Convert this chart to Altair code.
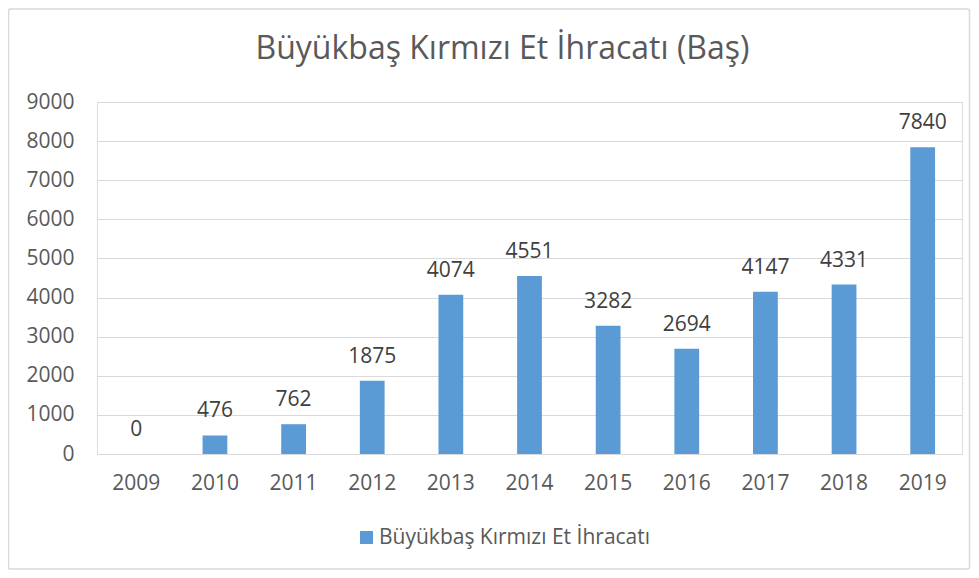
import altair as alt
import pandas as pd

years = ["2009", "2010", "2011", "2012", "2013", "2014", "2015", "2016", "2017", "2018", "2019"]
values = [0, 476, 762, 1875, 4074, 4551, 3282, 2694, 4147, 4331, 7840]
series_name = "Büyükbaş Kırmızı Et İhracatı"
title_text = "Büyükbaş Kırmızı Et İhracatı (Baş)"
y_ticks = [0, 1000, 2000, 3000, 4000, 5000, 6000, 7000, 8000, 9000]

df = pd.DataFrame({"year": years, "value": values, "series": [series_name] * len(years)})

FONT = "Open Sans"
BAR = "#5b9bd5"
GRID = "#d9d9d9"
TXT = "#595959"
FS = 21

x_enc = alt.X("year:N", sort=years,
              scale=alt.Scale(paddingInner=0.685, paddingOuter=0.3425),
              axis=alt.Axis(title=None, labelAngle=0, labelFontSize=FS, labelColor=TXT,
                            labelFont=FONT, labelPadding=18, labelBaseline="top",
                            ticks=False, domainColor=GRID, domainWidth=1, grid=False))
y_enc = alt.Y("value:Q",
              scale=alt.Scale(domain=[0, 9000], nice=False),
              axis=alt.Axis(title=None, values=y_ticks, format="d", labelOverlap=False,
                            labelFontSize=FS, labelColor=TXT,
                            labelFont=FONT, labelPadding=23, ticks=False, domain=False,
                            gridColor=GRID, gridWidth=1))

bars = alt.Chart(df).mark_bar(color=BAR).encode(
    x=x_enc,
    y=y_enc,
    color=alt.Color("series:N",
                    scale=alt.Scale(domain=[series_name], range=[BAR]),
                    legend=alt.Legend(title=None, orient="none", legendX=259, legendY=425,
                                      symbolType="square", symbolSize=170, symbolStrokeWidth=0,
                                      labelFontSize=FS, labelColor=TXT, labelFont=FONT,
                                      labelOffset=2, labelLimit=0)),
)

labels = alt.Chart(df).mark_text(baseline="alphabetic", dy=-18, fontSize=FS,
                                 font=FONT, color="#404040").encode(
    x=x_enc,
    y=y_enc,
    text="value:Q",
)

frame = alt.Chart(pd.DataFrame({"a": [0]})).mark_rect(
    fill=None, stroke=GRID, strokeWidth=1.5, cornerRadius=2
).encode(
    x=alt.value(-88.5), x2=alt.value(872.5),
    y=alt.value(-93), y2=alt.value(467),
)

title = alt.Chart(pd.DataFrame({"t": [title_text]})).mark_text(
    fontSize=32, font=FONT, color=TXT, align="center", baseline="alphabetic"
).encode(
    text="t:N",
    x=alt.value(405.5),
    y=alt.value(-43),
)

chart = alt.layer(frame, bars, labels, title).properties(
    width=865,
    height=352,
    padding={"left": 89, "top": 94, "right": 9, "bottom": 116},
    autosize=alt.AutoSizeParams(type="none"),
).configure_view(stroke=None).configure(background="white")

chart.save("out.html", embed_options={"renderer": "svg", "actions": False})
